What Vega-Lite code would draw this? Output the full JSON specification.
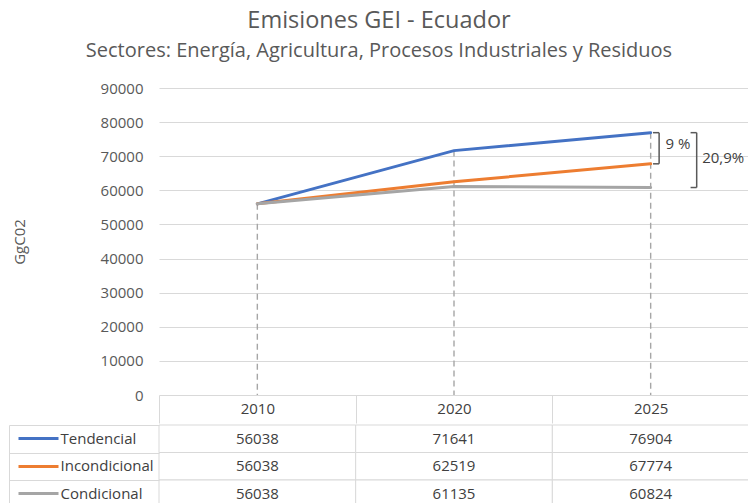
{
  "$schema": "https://vega.github.io/schema/vega-lite/v6.json",
  "padding": {"left": 8, "top": 8, "right": 0, "bottom": 0},
  "autosize": {"type": "pad"},
  "config": {"font": "Open Sans", "view": {"stroke": null}},
  "title": {
    "text": "Emisiones GEI - Ecuador",
    "subtitle": "Sectores: Energía, Agricultura, Procesos Industriales y Residuos",
    "fontSize": 23.5, "fontWeight": "normal", "color": "#595959",
    "subtitleFontSize": 20, "subtitleColor": "#595959", "subtitlePadding": 9,
    "offset": 20, "anchor": "middle"
  },
  "datasets": {
    "series": [
      {"serie": "Tendencial", "year": "2010", "value": 56038},
      {"serie": "Tendencial", "year": "2020", "value": 71641},
      {"serie": "Tendencial", "year": "2025", "value": 76904},
      {"serie": "Incondicional", "year": "2010", "value": 56038},
      {"serie": "Incondicional", "year": "2020", "value": 62519},
      {"serie": "Incondicional", "year": "2025", "value": 67774},
      {"serie": "Condicional", "year": "2010", "value": 56038},
      {"serie": "Condicional", "year": "2020", "value": 61135},
      {"serie": "Condicional", "year": "2025", "value": 60824}
    ],
    "brackets": [
      {"year": "2025", "label": "9 %", "low": 67774, "high": 76904},
      {"year": "2025", "label": "20,9%", "low": 60824, "high": 76904}
    ]
  },
  "spacing": 0,
  "vconcat": [
    {
      "width": 590,
      "height": 307,
      "layer": [
        {
          "data": {"name": "series"},
          "mark": {"type": "rule", "strokeDash": [6, 4], "color": "#a6a6a6", "strokeWidth": 1.4},
          "encoding": {
            "x": {
              "field": "year", "type": "ordinal",
              "scale": {"type": "band", "domain": ["2010", "2020", "2025"], "paddingInner": 0, "paddingOuter": 0},
              "axis": {
                "orient": "bottom", "title": null, "labelAngle": 0, "labelFontSize": 15, "labelColor": "#404040",
                "tickBand": "extent", "tickSize": 28, "tickColor": "#d9d9d9", "domain": false,
                "labelPadding": -22, "grid": false
              }
            },
            "y": {
              "aggregate": "max", "field": "value", "type": "quantitative",
              "scale": {"domain": [0, 90000], "nice": false},
              "axis": {
                "title": "GgC02", "titleFontSize": 15, "titleColor": "#595959", "titleFontWeight": "normal",
                "titlePadding": 73, "labelFontSize": 15, "labelColor": "#595959", "labelPadding": 16,
                "ticks": false, "domain": false, "gridColor": "#d9d9d9", "tickCount": 9, "format": "d"
              }
            },
            "y2": {"datum": 0}
          }
        },
        {
          "data": {"name": "series"},
          "mark": {"type": "line", "strokeWidth": 3, "strokeCap": "round"},
          "encoding": {
            "x": {"field": "year", "type": "ordinal"},
            "y": {"field": "value", "type": "quantitative"},
            "color": {
              "field": "serie", "type": "nominal",
              "scale": {"domain": ["Tendencial", "Incondicional", "Condicional"], "range": ["#4472c4", "#ed7d31", "#a5a5a5"]},
              "legend": null
            }
          }
        },
        {
          "data": {"name": "brackets"},
          "transform": [{"filter": "datum.label === '9 %'"}],
          "layer": [
            {
              "mark": {"type": "rule", "color": "#595959", "strokeWidth": 1.5},
              "encoding": {
                "x": {"field": "year", "type": "ordinal", "bandPosition": 0.543},
                "y": {"field": "high", "type": "quantitative"},
                "y2": {"field": "low"}
              }
            },
            {
              "mark": {"type": "rule", "color": "#595959", "strokeWidth": 1.5},
              "encoding": {
                "x": {"field": "year", "type": "ordinal", "bandPosition": 0.512},
                "x2": {"field": "year", "bandPosition": 0.543},
                "y": {"field": "high", "type": "quantitative"}
              }
            },
            {
              "mark": {"type": "rule", "color": "#595959", "strokeWidth": 1.5},
              "encoding": {
                "x": {"field": "year", "type": "ordinal", "bandPosition": 0.512},
                "x2": {"field": "year", "bandPosition": 0.543},
                "y": {"field": "low", "type": "quantitative"}
              }
            },
            {
              "mark": {"type": "text", "align": "left", "baseline": "middle", "fontSize": 15, "color": "#404040"},
              "encoding": {
                "x": {"field": "year", "type": "ordinal", "bandPosition": 0.575},
                "y": {"datum": 73580, "type": "quantitative"},
                "text": {"field": "label"}
              }
            }
          ]
        },
        {
          "data": {"name": "brackets"},
          "transform": [{"filter": "datum.label === '20,9%'"}],
          "layer": [
            {
              "mark": {"type": "rule", "color": "#595959", "strokeWidth": 1.5},
              "encoding": {
                "x": {"field": "year", "type": "ordinal", "bandPosition": 0.734},
                "y": {"field": "high", "type": "quantitative"},
                "y2": {"field": "low"}
              }
            },
            {
              "mark": {"type": "rule", "color": "#595959", "strokeWidth": 1.5},
              "encoding": {
                "x": {"field": "year", "type": "ordinal", "bandPosition": 0.703},
                "x2": {"field": "year", "bandPosition": 0.734},
                "y": {"field": "high", "type": "quantitative"}
              }
            },
            {
              "mark": {"type": "rule", "color": "#595959", "strokeWidth": 1.5},
              "encoding": {
                "x": {"field": "year", "type": "ordinal", "bandPosition": 0.703},
                "x2": {"field": "year", "bandPosition": 0.734},
                "y": {"field": "low", "type": "quantitative"}
              }
            },
            {
              "mark": {"type": "text", "align": "left", "baseline": "middle", "fontSize": 15, "color": "#404040"},
              "encoding": {
                "x": {"field": "year", "type": "ordinal", "bandPosition": 0.762},
                "y": {"datum": 69480, "type": "quantitative"},
                "text": {"field": "label"}
              }
            }
          ]
        }
      ]
    },
    {
      "width": 590,
      "height": 82.5,
      "data": {"name": "series"},
      "layer": [
        {
          "mark": {"type": "rect", "fill": "white", "stroke": "#d9d9d9", "strokeWidth": 1},
          "encoding": {
            "x": {
              "field": "year", "type": "ordinal",
              "scale": {"type": "band", "domain": ["2010", "2020", "2025"], "paddingInner": 0, "paddingOuter": 0},
              "axis": null
            },
            "y": {
              "field": "serie", "type": "nominal",
              "scale": {"type": "band", "domain": ["Tendencial", "Incondicional", "Condicional"], "paddingInner": 0, "paddingOuter": 0},
              "axis": {
                "orient": "left", "offset": 150, "tickBand": "extent", "tickSize": -150,
                "tickColor": "#d9d9d9", "domainColor": "#d9d9d9", "labels": false, "title": null, "grid": false
              }
            }
          }
        },
        {
          "mark": {"type": "text", "fontSize": 15, "color": "#404040"},
          "encoding": {
            "x": {"field": "year", "type": "ordinal", "axis": null},
            "y": {
              "field": "serie", "type": "nominal",
              "axis": {
                "orient": "left", "offset": 101, "tickSize": 40, "tickWidth": 3,
                "tickColor": {
                  "condition": [
                    {"test": "datum.value === 'Tendencial'", "value": "#4472c4"},
                    {"test": "datum.value === 'Incondicional'", "value": "#ed7d31"}
                  ],
                  "value": "#a5a5a5"
                },
                "labelPadding": -42, "labelAlign": "left", "labelFontSize": 15, "labelColor": "#404040",
                "domain": false, "grid": false, "title": null
              }
            },
            "text": {"field": "value", "type": "quantitative", "format": "d"}
          }
        }
      ],
      "resolve": {"axis": {"y": "independent"}}
    }
  ]
}
